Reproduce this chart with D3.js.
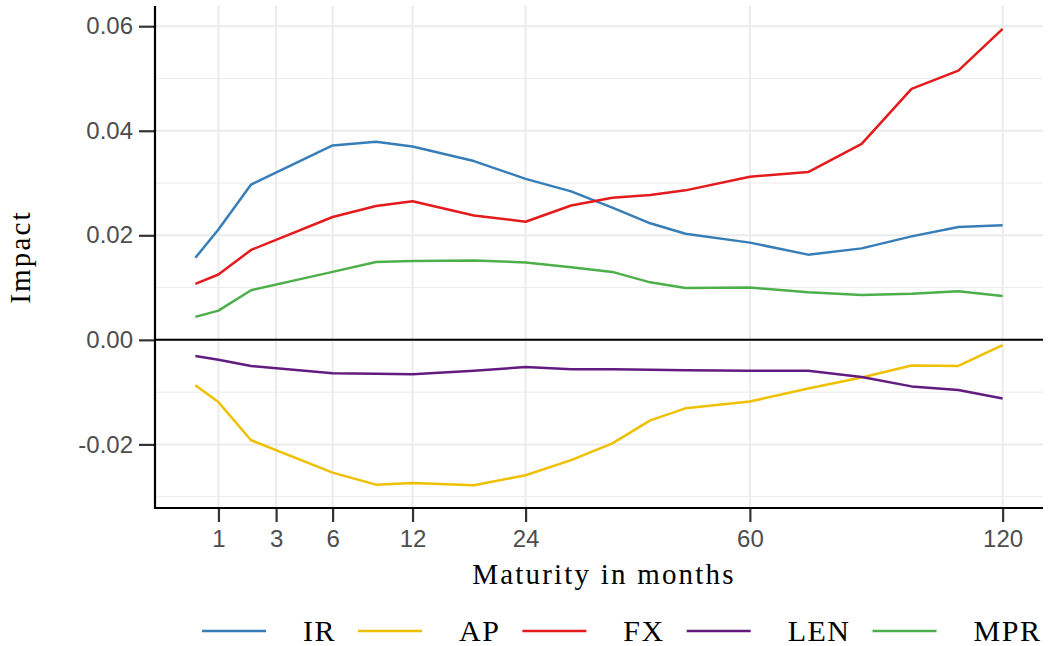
<!DOCTYPE html>
<html lang="en">
<head>
    <meta charset="UTF-8">
    <title>Impact by maturity</title>
    <script src="https://cdn.jsdelivr.net/npm/d3@7"></script>
    <style>
        body { margin: 0; background: #fff; }
        .tick text { font-family: "Liberation Sans", Arial, sans-serif; fill: #4d4d4d; }
        .serif { font-family: "Liberation Serif", "Times New Roman", serif; fill: #000; }
    </style>
</head>
<body>
    <svg width="1051" height="646"></svg>

    <script>
        // maturities in months
        var maturities = [0.5, 1, 2, 6, 9, 12, 18, 24, 30, 36, 42, 48, 60, 72, 84, 96, 108, 120];
        var IR  = [0.0157, 0.0211, 0.0297, 0.0372, 0.0379, 0.0370, 0.0342, 0.0308, 0.0284, 0.0253, 0.0223, 0.0203, 0.0186, 0.0163, 0.0175, 0.0198, 0.0216, 0.0219];
        var AP  = [-0.0087, -0.0119, -0.0192, -0.0254, -0.0277, -0.0274, -0.0278, -0.0259, -0.0230, -0.0198, -0.0154, -0.0131, -0.0118, -0.0093, -0.0072, -0.0049, -0.0050, -0.0010];
        var FX  = [0.0107, 0.0125, 0.0172, 0.0235, 0.0256, 0.0265, 0.0238, 0.0226, 0.0257, 0.0272, 0.0277, 0.0286, 0.0312, 0.0321, 0.0375, 0.0480, 0.0515, 0.0595];
        var LEN = [-0.0031, -0.0038, -0.0050, -0.0064, -0.0065, -0.0066, -0.0059, -0.0052, -0.0056, -0.0056, -0.0057, -0.0058, -0.0059, -0.0059, -0.0071, -0.0089, -0.0096, -0.0112];
        var MPR = [0.0044, 0.0056, 0.0095, 0.0130, 0.0149, 0.0151, 0.0152, 0.0148, 0.0139, 0.0130, 0.0110, 0.0099, 0.0100, 0.0091, 0.0086, 0.0088, 0.0093, 0.0084];

        var seriesNames = ["IR", "AP", "FX", "LEN", "MPR"];
        var seriesValues = [IR, AP, FX, LEN, MPR];
        var colors = ["#377EB8", "#EFC000", "#E41A1C", "#621B7F", "#4DAF4A"];

        var xTicks = [1, 3, 6, 12, 24, 60, 120];
        var yTicks = [-0.02, 0, 0.02, 0.04, 0.06];
        var yMinor = [-0.03, -0.01, 0.01, 0.03, 0.05];

        var svg = d3.select("svg");
        const pLeft = 155, pRight = 1043, pTop = 6, pBottom = 508;

        // sqrt x scale with ggplot-like 5% expansion
        var sLo = Math.sqrt(d3.min(maturities)), sHi = Math.sqrt(d3.max(maturities));
        var sPad = (sHi - sLo) * 0.05;
        var x = d3.scaleSqrt()
            .domain([Math.pow(sLo - sPad, 2), Math.pow(sHi + sPad, 2)])
            .range([pLeft, pRight]);

        var allVals = d3.merge(seriesValues);
        var yLo = d3.min(allVals), yHi = d3.max(allVals);
        var yPad = (yHi - yLo) * 0.05;
        var y = d3.scaleLinear()
            .domain([yLo - yPad, yHi + yPad])
            .range([pBottom, pTop]);

        // grid
        svg.append("g").selectAll("line")
            .data(yMinor).enter().append("line")
            .attr("x1", pLeft).attr("x2", pRight)
            .attr("y1", d => y(d)).attr("y2", d => y(d))
            .attr("stroke", "#ebebeb").attr("stroke-width", 1);
        svg.append("g").selectAll("line")
            .data(yTicks).enter().append("line")
            .attr("x1", pLeft).attr("x2", pRight)
            .attr("y1", d => y(d)).attr("y2", d => y(d))
            .attr("stroke", "#ebebeb").attr("stroke-width", 2);
        svg.append("g").selectAll("line")
            .data(xTicks).enter().append("line")
            .attr("x1", d => x(d)).attr("x2", d => x(d))
            .attr("y1", pTop).attr("y2", pBottom)
            .attr("stroke", "#ebebeb").attr("stroke-width", 2);

        // zero line
        svg.append("line")
            .attr("x1", pLeft).attr("x2", pRight)
            .attr("y1", y(0)).attr("y2", y(0))
            .attr("stroke", "#000").attr("stroke-width", 2);

        // series
        var line = d3.line()
            .x((d, i) => x(maturities[i]))
            .y(d => y(d));

        svg.append("g").selectAll("path")
            .data(seriesValues).enter().append("path")
            .attr("d", line)
            .attr("fill", "none")
            .attr("stroke", (d, i) => colors[i])
            .attr("stroke-width", 2.5)
            .attr("stroke-linejoin", "round");

        // axes
        var xAxis = svg.append("g")
            .attr("transform", "translate(0," + pBottom + ")")
            .call(d3.axisBottom(x).tickValues(xTicks).tickSize(14).tickPadding(8).tickFormat(d3.format("d")));
        xAxis.select(".domain").remove();
        xAxis.selectAll(".tick line").attr("stroke", "#333").attr("stroke-width", 2.2);
        xAxis.selectAll(".tick text").attr("font-size", 24);

        var yAxis = svg.append("g")
            .attr("transform", "translate(" + pLeft + ",0)")
            .call(d3.axisLeft(y).tickValues(yTicks).tickSize(16).tickPadding(6).tickFormat(d => d.toFixed(2)));
        yAxis.select(".domain").remove();
        yAxis.selectAll(".tick line").attr("stroke", "#333").attr("stroke-width", 2.2);
        yAxis.selectAll(".tick text").attr("font-size", 24);

        svg.append("line")
            .attr("x1", pLeft).attr("x2", pLeft)
            .attr("y1", pTop).attr("y2", pBottom + 1)
            .attr("stroke", "#000").attr("stroke-width", 2.2);
        svg.append("line")
            .attr("x1", pLeft - 1).attr("x2", pRight)
            .attr("y1", pBottom).attr("y2", pBottom)
            .attr("stroke", "#000").attr("stroke-width", 2.2);

        // axis titles
        svg.append("text")
            .attr("class", "serif")
            .attr("x", 604).attr("y", 584)
            .attr("text-anchor", "middle")
            .attr("font-size", 29)
            .attr("letter-spacing", 2.2)
            .text("Maturity in months");

        svg.append("text")
            .attr("class", "serif")
            .attr("transform", "translate(30," + ((pTop + pBottom) / 2) + ") rotate(-90)")
            .attr("text-anchor", "middle")
            .attr("font-size", 29)
            .attr("letter-spacing", 2.2)
            .text("Impact");

        // legend
        var legend = svg.append("g");
        var lx = 202, ly = 631;
        seriesNames.forEach(function(name, i) {
            legend.append("line")
                .attr("x1", lx).attr("x2", lx + 64)
                .attr("y1", ly).attr("y2", ly)
                .attr("stroke", colors[i]).attr("stroke-width", 2.5);
            var t = legend.append("text")
                .attr("class", "serif")
                .attr("x", lx + 64 + 37).attr("y", ly + 10)
                .attr("font-size", 30)
                .attr("letter-spacing", 1.5)
                .text(name);
            lx = lx + 64 + 37 + t.node().getComputedTextLength() + 22;
        });
    </script>
</body>
</html>
